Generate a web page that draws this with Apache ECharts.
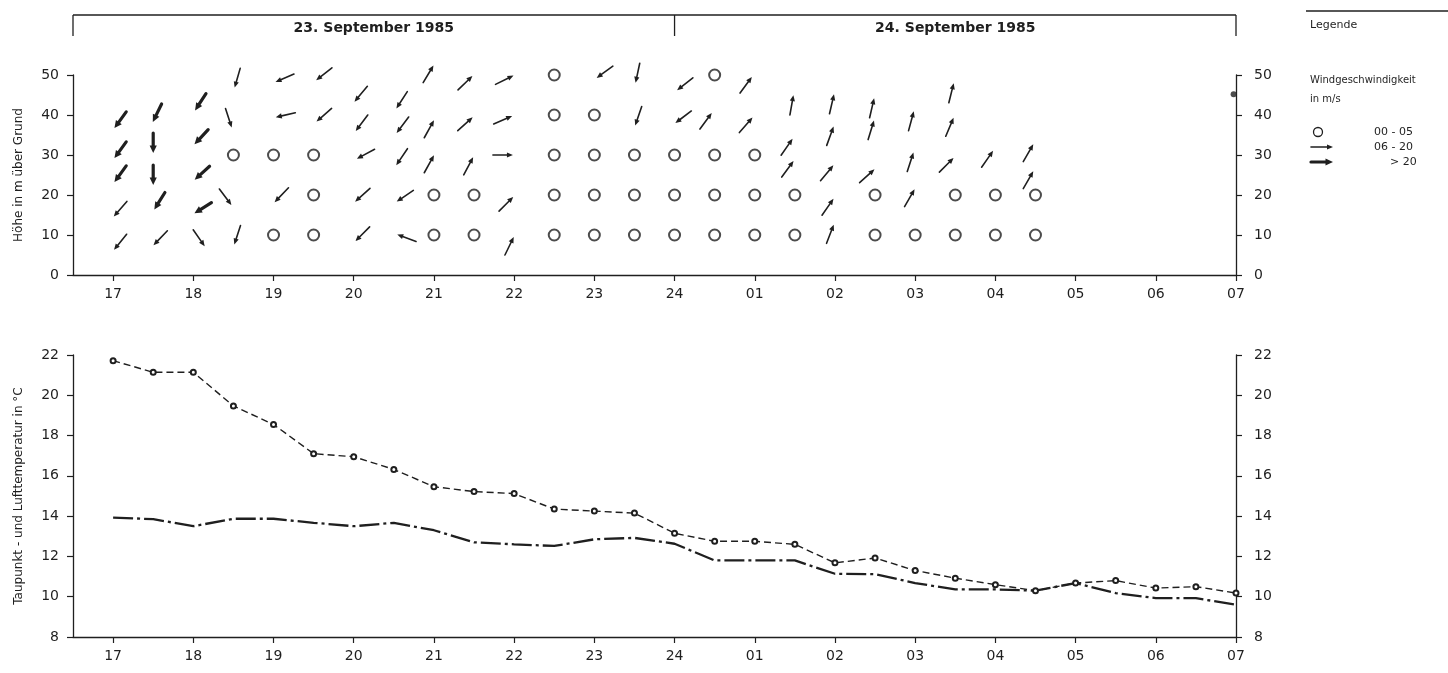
<!DOCTYPE html>
<html>
<head>
<meta charset="utf-8">
<script src="https://cdn.jsdelivr.net/npm/echarts@6/dist/echarts.min.js"></script>
<style>
  html, body { margin: 0; padding: 0; background: #fff; }
  #chart { width: 1448px; height: 673px; }
</style>
</head>
<body>
<div id="chart"></div>
<script>
/* Wind profile + temperature, 23./24. September 1985 */
const INK = '#1f1f1f';
const FONT = '"DejaVu Sans", sans-serif';

// x axis: hours after 17:00 (left edge at -0.5, right edge = 07:00)
const hourTicks = [0, 1, 2, 3, 4, 5, 6, 7, 8, 9, 10, 11, 12, 13, 14];
const hourLabels = ['17', '18', '19', '20', '21', '22', '23', '24', '01', '02', '03', '04', '05', '06', '07'];
const dayLabels = ['23. September 1985', '24. September 1985'];

// calm (00-05 m/s): [hour, height m]
const calmPoints = [
  [1.5, 30], [2, 30], [2, 10], [2.5, 30], [2.5, 20], [2.5, 10],
  [4, 20], [4, 10], [4.5, 20], [4.5, 10],
  [5.5, 50], [5.5, 40], [5.5, 30], [5.5, 20], [5.5, 10],
  [6, 40], [6, 30], [6, 20], [6, 10],
  [6.5, 30], [6.5, 20], [6.5, 10],
  [7, 30], [7, 20], [7, 10],
  [7.5, 50], [7.5, 30], [7.5, 20], [7.5, 10],
  [8, 30], [8, 20], [8, 10],
  [8.5, 20], [8.5, 10],
  [9.5, 20], [9.5, 10],
  [10, 10],
  [10.5, 20], [10.5, 10],
  [11, 20], [11, 10],
  [11.5, 20], [11.5, 10]
];

// wind arrows: [hour, height m, direction arrow points to (deg, 0 = up), class 1 = 06-20, 2 = >20]
const windArrows = [
  [0.09, 38.75, 216, 2], [0.09, 31.25, 216, 2], [0.09, 25.25, 216, 2], [0.09, 16.5, 221, 1], [0.09, 8.25, 219, 1],
  [0.55, 40.5, 206, 2], [0.5, 33, 180, 2], [0.5, 25, 180, 2], [0.58, 18.5, 212, 2], [0.59, 9.25, 224, 1],
  [1.09, 43.25, 213, 2], [1.1, 34.5, 223, 2], [1.11, 25.5, 228, 2], [1.12, 16.75, 238, 2], [1.07, 9.25, 145, 1],
  [1.55, 49.25, 196, 1], [1.44, 39.25, 162, 1], [1.4, 19.5, 143, 1], [1.55, 10, 198, 1],
  [2.14, 49.25, 247, 1], [2.15, 40, 257, 1], [2.1, 20, 224, 1],
  [2.63, 50.25, 232, 1], [2.63, 40, 229, 1],
  [3.09, 45.25, 220, 1], [3.1, 38, 217, 1], [3.15, 30.25, 242, 1], [3.11, 20, 228, 1], [3.11, 10.25, 225, 1],
  [3.6, 43.75, 213, 1], [3.61, 37.5, 217, 1], [3.6, 29.5, 214, 1], [3.64, 19.75, 236, 1], [3.66, 9.25, 290, 1],
  [3.93, 50.25, 31, 1], [3.94, 36.5, 29, 1], [3.94, 27.75, 29, 1],
  [4.39, 48, 46, 1], [4.39, 37.75, 48, 1], [4.43, 27.25, 28, 1],
  [4.88, 48.75, 64, 1], [4.86, 38.75, 67, 1], [4.86, 30, 90, 1], [4.9, 17.75, 45, 1], [4.94, 7.25, 26, 1],
  [6.13, 50.75, 234, 1],
  [6.54, 50.5, 192, 1], [6.55, 39.75, 199, 1],
  [7.13, 47.75, 232, 1], [7.11, 39.5, 233, 1],
  [7.39, 38.5, 36, 1],
  [7.89, 47.5, 36, 1], [7.89, 37.5, 41, 1],
  [8.46, 42.5, 10, 1], [8.4, 32, 35, 1], [8.41, 26.5, 36, 1],
  [8.96, 42.75, 13, 1], [8.94, 34.75, 20, 1], [8.9, 25.5, 40, 1], [8.91, 17, 35, 1], [8.94, 10.25, 21, 1],
  [9.46, 41.75, 13, 1], [9.45, 36.25, 17, 1], [9.4, 24.75, 48, 1],
  [9.95, 38.5, 15, 1], [9.94, 28.25, 18, 1], [9.93, 19.25, 30, 1],
  [10.45, 45.5, 14, 1], [10.43, 37, 23, 1], [10.39, 27.5, 45, 1],
  [10.9, 29, 35, 1],
  [11.41, 30.5, 30, 1], [11.41, 23.75, 30, 1]
];

// stray ink dot at the right axis
const inkDot = [[13.97, 45.2]];

// temperatures, half-hourly 17:00 .. 07:00
const halfHours = [0, 0.5, 1, 1.5, 2, 2.5, 3, 3.5, 4, 4.5, 5, 5.5, 6, 6.5, 7,
  7.5, 8, 8.5, 9, 9.5, 10, 10.5, 11, 11.5, 12, 12.5, 13, 13.5, 14];
const airTemp = [21.72, 21.14, 21.14, 19.47, 18.55, 17.1, 16.95, 16.32, 15.46, 15.22, 15.12, 14.35, 14.25, 14.15, 13.15,
  12.75, 12.75, 12.6, 11.68, 11.92, 11.3, 10.92, 10.6, 10.3, 10.68, 10.8, 10.43, 10.5, 10.18];
const dewPoint = [13.93, 13.85, 13.5, 13.87, 13.87, 13.67, 13.5, 13.67, 13.3, 12.7, 12.6, 12.52, 12.85, 12.92, 12.63,
  11.8, 11.8, 11.8, 11.14, 11.12, 10.68, 10.36, 10.36, 10.3, 10.68, 10.18, 9.93, 9.93, 9.6];

const legendRows = ['00 - 05', '06 - 20', '> 20'];

// ---- drawing helpers ----
function arrowEls(cx, cy, bearing, cls, len) {
  const b = bearing * Math.PI / 180;
  const dx = Math.sin(b), dy = -Math.cos(b);
  const L = len || 20;
  const thick = cls === 2;
  const hl = thick ? 7.5 : 6, hw = thick ? 3.6 : 2.6;
  const tx = cx - dx * L / 2, ty = cy - dy * L / 2;
  const px = cx + dx * L / 2, py = cy + dy * L / 2;
  const bx = px - dx * hl, by = py - dy * hl;
  return [
    { type: 'line', shape: { x1: tx, y1: ty, x2: bx + dx, y2: by + dy },
      style: { stroke: INK, lineWidth: thick ? 3.2 : 1.6, lineCap: 'round' } },
    { type: 'polygon', shape: { points: [[px, py], [bx - dy * hw, by + dx * hw], [bx + dy * hw, by - dx * hw]] },
      style: { fill: INK } }
  ];
}

const axisText = { color: INK, fontFamily: FONT, fontSize: 14 };
const xAxisCommon = {
  type: 'value', min: -0.5, max: 14,
  axisLine: { onZero: false, lineStyle: { color: INK, width: 1.3 } },
  axisTick: { customValues: hourTicks, length: 6, lineStyle: { color: INK, width: 1.2 } },
  axisLabel: Object.assign({ customValues: hourTicks, margin: 12,
    formatter: (v) => hourLabels[hourTicks.indexOf(Math.round(v))] || '' }, axisText),
  splitLine: { show: false }
};
function yAx(grid, pos, min, max, interval, name) {
  return {
    type: 'value', gridIndex: grid, position: pos, min, max, interval,
    name: name || '', nameLocation: 'middle', nameGap: 48, nameRotate: 90,
    nameTextStyle: { color: INK, fontFamily: FONT, fontSize: 12 },
    axisLine: { show: true, onZero: false, lineStyle: { color: INK, width: 1.3 } },
    axisTick: { show: true, length: 6, lineStyle: { color: INK, width: 1.2 } },
    axisLabel: Object.assign({ margin: pos === 'left' ? 14 : 18 }, axisText),
    splitLine: { show: false }
  };
}

const chart = echarts.init(document.getElementById('chart'), null, { renderer: 'canvas' });

chart.setOption({
  backgroundColor: '#fff',
  animation: false,
  grid: [
    { left: 73, right: 212, top: 75, height: 200 },
    { left: 73, right: 212, top: 355, height: 282 }
  ],
  xAxis: [
    Object.assign({ gridIndex: 0 }, xAxisCommon),
    Object.assign({ gridIndex: 1 }, xAxisCommon)
  ],
  yAxis: [
    yAx(0, 'left', 0, 50, 10, 'Höhe in m über Grund'),
    yAx(0, 'right', 0, 50, 10),
    yAx(1, 'left', 8, 22, 2, 'Taupunkt - und Lufttemperatur in °C'),
    yAx(1, 'right', 8, 22, 2)
  ],
  series: [
    { type: 'scatter', xAxisIndex: 0, yAxisIndex: 0, data: calmPoints,
      symbol: 'emptyCircle', symbolSize: 11,
      itemStyle: { color: INK, borderColor: INK, borderWidth: 1.3 } },
    { type: 'custom', xAxisIndex: 0, yAxisIndex: 0, data: windArrows,
      renderItem: (params, api) => {
        const c = api.coord([api.value(0), api.value(1)]);
        return { type: 'group', children: arrowEls(c[0], c[1], api.value(2), api.value(3), 20) };
      } },
    { type: 'scatter', xAxisIndex: 0, yAxisIndex: 0, data: inkDot,
      symbolSize: 6, itemStyle: { color: INK } },
    { type: 'line', xAxisIndex: 1, yAxisIndex: 2,
      data: halfHours.map((t, i) => [t, airTemp[i]]),
      symbol: 'emptyCircle', symbolSize: 5, showSymbol: true, showAllSymbol: true,
      itemStyle: { color: INK, borderColor: INK, borderWidth: 1 },
      lineStyle: { color: INK, width: 1.4, type: [7, 4] } },
    { type: 'line', xAxisIndex: 1, yAxisIndex: 2,
      data: halfHours.map((t, i) => [t, dewPoint[i]]),
      symbol: 'none',
      lineStyle: { color: INK, width: 2.3, type: [20, 4, 3, 4] } }
  ]
});

// header with the two days, positioned through the x axis
const xL = chart.convertToPixel({ xAxisIndex: 0 }, -0.5);
const xM = chart.convertToPixel({ xAxisIndex: 0 }, 7);
const xR = chart.convertToPixel({ xAxisIndex: 0 }, 14);
const headY = 15, headB = 36;
const lineStyle = { stroke: INK, lineWidth: 1.3 };
const txt = (x, y, s, extra) => ({ type: 'text', x, y,
  style: Object.assign({ text: s, fill: INK, font: '11px ' + FONT, verticalAlign: 'middle' }, extra || {}) });

const graphic = [
  { type: 'line', shape: { x1: xL, y1: headY, x2: xR, y2: headY }, style: lineStyle },
  { type: 'line', shape: { x1: xL, y1: headY, x2: xL, y2: headB }, style: lineStyle },
  { type: 'line', shape: { x1: xM, y1: headY, x2: xM, y2: headB }, style: lineStyle },
  { type: 'line', shape: { x1: xR, y1: headY, x2: xR, y2: headB }, style: lineStyle },
  txt((xL + xM) / 2, 28, dayLabels[0], { font: 'bold 14px ' + FONT, align: 'center' }),
  txt((xM + xR) / 2, 28, dayLabels[1], { font: 'bold 14px ' + FONT, align: 'center' }),
  // legend
  { type: 'line', shape: { x1: 1306, y1: 11, x2: 1448, y2: 11 }, style: lineStyle },
  txt(1310, 25, 'Legende', { font: '11px ' + FONT }),
  txt(1310, 80, 'Windgeschwindigkeit', { font: '10px ' + FONT }),
  txt(1310, 99, 'in m/s', { font: '10px ' + FONT }),
  { type: 'circle', shape: { cx: 1318, cy: 132, r: 4.5 }, style: { fill: '#fff', stroke: INK, lineWidth: 1.3 } },
  txt(1374, 132, legendRows[0], { font: '11px ' + FONT }),
  txt(1374, 147, legendRows[1], { font: '11px ' + FONT }),
  txt(1390, 162, legendRows[2], { font: '11px ' + FONT })
].concat(arrowEls(1322, 147, 90, 1, 22), arrowEls(1322, 162, 90, 2, 22));

chart.setOption({ graphic });
</script>
</body>
</html>
